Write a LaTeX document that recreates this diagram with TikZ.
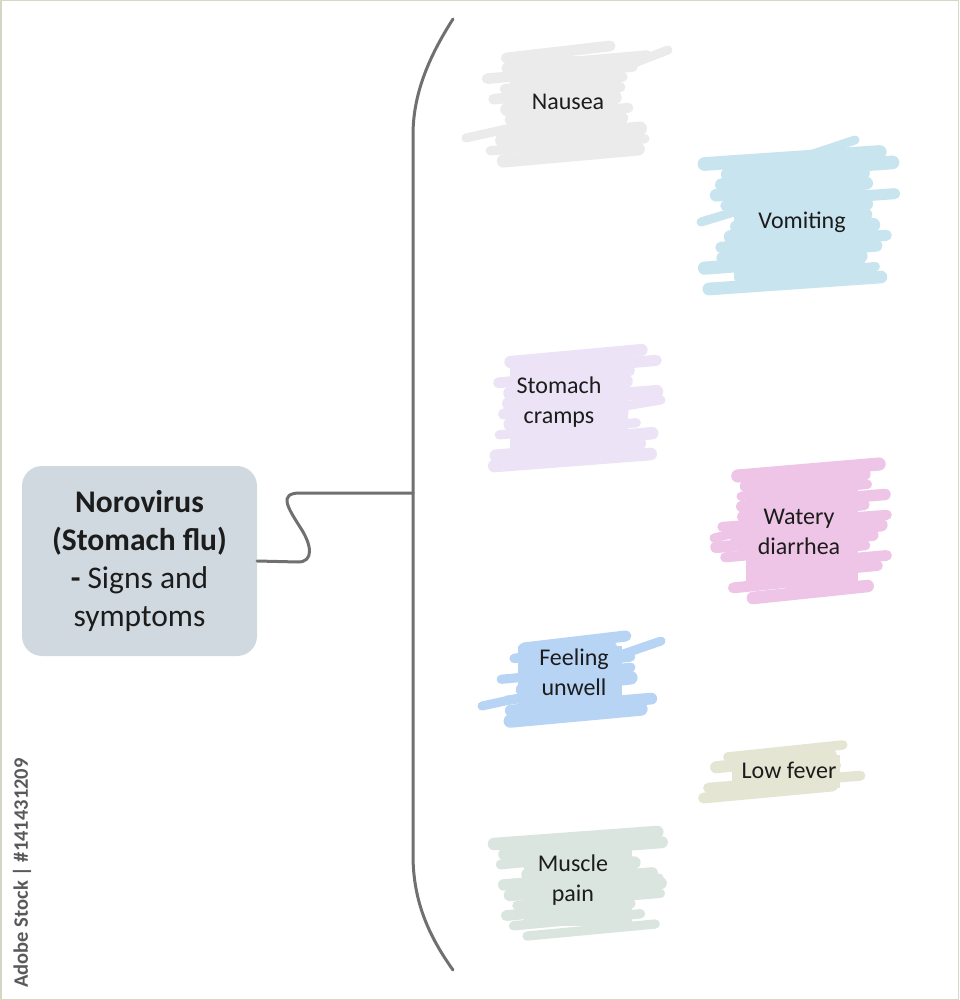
\documentclass[tikz,border=0pt]{standalone}
\usepackage{fontspec}
\setmainfont{Carlito}
\definecolor{cNau}{HTML}{EBEBEB}
\definecolor{cVom}{HTML}{C8E4EE}
\definecolor{cSto}{HTML}{ECE4F6}
\definecolor{cWat}{HTML}{EEC5E7}
\definecolor{cFee}{HTML}{B8D4F5}
\definecolor{cLow}{HTML}{E5E5D3}
\definecolor{cMus}{HTML}{DAE5DF}
\definecolor{cMain}{HTML}{D0D9DF}
\definecolor{cLine}{HTML}{707070}
\definecolor{cTxt}{HTML}{1C1C1C}
\definecolor{cFrame}{HTML}{D6D6C6}
\newcommand\scrib[6]{%
  \pgfmathsetseed{#6}%
  \fill[#5] ({#1+30},{#2+14}) rectangle ({#3-30},{#4-14});
  \pgfmathtruncatemacro\nn{(#4-#2-20)/10}%
  \foreach \k in {0,...,\nn}{%
    \pgfmathsetmacro\yy{#2+10+\k*(#4-#2-20)/\nn}%
    \pgfmathsetmacro\xa{#1+rnd*40}%
    \pgfmathsetmacro\xb{#3-rnd*40}%
    \pgfmathsetmacro\lw{9+rnd*5}%
    \draw[#5,line width=\lw pt,line cap=round] (\xa,\yy+6) -- (\xb,\yy-6);
  }%
}
\begin{document}
\begin{tikzpicture}[x=1pt,y=-1pt,
  sym/.style={font=\fontsize{24}{30}\selectfont, align=center, text=cTxt, inner sep=0pt},
  streak/.style={line width=9pt, line cap=round},
  mainbox/.style={fill=cMain, rounded corners=20pt, minimum width=235pt, minimum height=190pt,
    align=center, text=cTxt, font=\fontsize{31.5}{38}\selectfont, inner sep=0pt},
  conn/.style={draw=cLine, line width=3pt, line cap=round}]
\useasboundingbox (0,0) rectangle (959,1000);
\fill[white] (0,0) rectangle (959,1000);
\draw[cFrame, line width=1.5pt] (0.75,0.75) rectangle (958.25,999.25);

% scribble blobs
\scrib{480}{42}{648}{165}{cNau}{11}
\draw[cNau,streak] (466,138) -- (565,116);
\draw[cNau,streak] (585,82) -- (668,50);
\scrib{704}{148}{895}{293}{cVom}{23}
\draw[cVom,streak] (701,222) -- (780,198);
\draw[cVom,streak] (780,165) -- (855,140);
\scrib{480}{346}{658}{470}{cSto}{37}
\draw[cSto,streak] (590,412) -- (661,400);
\scrib{716}{460}{888}{602}{cWat}{41}
\draw[cWat,streak] (714,538) -- (790,520);
\scrib{488}{632}{652}{725}{cFee}{53}
\draw[cFee,streak] (482,706) -- (565,688);
\draw[cFee,streak] (600,662) -- (661,641);
\scrib{702}{741}{870}{802}{cLow}{67}
\scrib{494}{828}{662}{940}{cMus}{79}
\draw[cMus,streak] (600,890) -- (659,878);

% main node
\node[mainbox] (main) at (139.5,561)
  {\textbf{Norovirus}\\\textbf{(Stomach flu)}\\\textbf{-} Signs and\\symptoms};

% symptom labels
\node[sym] (nausea) at (568,102) {Nausea};
\node[sym] (vomit) at (802,222) {Vomiting};
\node[sym] (cramps) at (559,402) {Stomach\\cramps};
\node[sym] (diarr) at (799,532) {Watery\\diarrhea};
\node[sym] (unwell) at (574,672) {Feeling\\unwell};
\node[sym] (fever) at (789,770) {Low fever};
\node[sym] (muscle) at (573,880) {Muscle\\pain};

% brace
\coordinate (btop) at (453,19);
\coordinate (bmid) at (413,493);
\coordinate (bbot) at (453,970);
\draw[conn] (btop) .. controls (428,58) and (413,95) .. (413,135) -- (413,855)
  .. controls (413,900) and (428,935) .. (bbot);

% connector
\draw[conn] (main.east) -- (298,562) .. controls (314,562) and (312,545) .. (300,527)
  .. controls (288,508) and (278,493) .. (300,493) -- (bmid);

% stock id
\node[rotate=90, font=\bfseries\fontsize{20.5}{22}\selectfont, text=black!65, inner sep=0pt] (wm)
  at (22,873) {Adobe Stock | \#141431209};
\end{tikzpicture}
\end{document}
